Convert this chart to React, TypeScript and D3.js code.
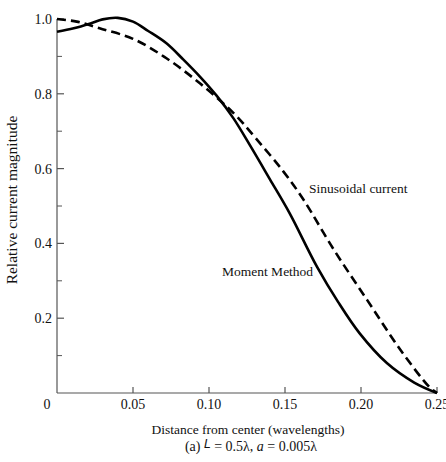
import React from 'react';
import * as d3 from 'd3';

// distance from center (wavelengths)
const MOMENT_X = [0, 0.011, 0.022, 0.03, 0.04, 0.05, 0.06, 0.072, 0.083, 0.094, 0.105, 0.116, 0.127, 0.14, 0.153, 0.171, 0.185, 0.199, 0.217, 0.235, 0.25];
const MOMENT_Y = [0.966, 0.975, 0.988, 0.999, 1.003, 0.993, 0.968, 0.935, 0.892, 0.846, 0.795, 0.735, 0.662, 0.572, 0.481, 0.338, 0.243, 0.16, 0.08, 0.028, 0.0];

const SINE_X = [0, 0.013, 0.028, 0.05, 0.072, 0.094, 0.116, 0.131, 0.149, 0.162, 0.182, 0.204, 0.226, 0.245, 0.25];
const SINE_Y = [1.0, 0.993, 0.975, 0.947, 0.895, 0.828, 0.749, 0.68, 0.592, 0.518, 0.384, 0.249, 0.115, 0.016, 0.0];

const X_TICKS = [0.05, 0.1, 0.15, 0.2, 0.25];
const X_TICK_LABELS = ['0.05', '0.10', '0.15', '0.20', '0.25'];
const Y_TICKS = [0.2, 0.4, 0.6, 0.8, 1.0];
const Y_TICK_LABELS = ['0.2', '0.4', '0.6', '0.8', '1.0'];
const Y_MINOR = [0.1, 0.3, 0.5, 0.7, 0.9];

const W = 446;
const H = 462;
const serif = "'Liberation Serif', 'Times New Roman', serif";

export default function App() {
  const x = d3.scaleLinear().domain([0, 0.25]).range([57, 437]);
  const y = d3.scaleLinear().domain([0, 1]).range([393, 19]);
  const line = d3.line<[number, number]>().x(d => x(d[0])).y(d => y(d[1])).curve(d3.curveCatmullRom.alpha(0.5));
  const moment = line(MOMENT_X.map((v, i) => [v, MOMENT_Y[i]] as [number, number])) || '';
  const sine = line(SINE_X.map((v, i) => [v, SINE_Y[i]] as [number, number])) || '';
  const axisColor = '#555';

  return (
    <svg width={W} height={H} style={{ position: 'absolute', left: 0, top: 0, background: '#fff' }} fontFamily={serif}>
      <rect width={W} height={H} fill="#fff" />
      {/* axes */}
      <line x1={x(0)} x2={x(0.25)} y1={y(0)} y2={y(0)} stroke={axisColor} strokeWidth={1.2} />
      <line x1={x(0)} x2={x(0)} y1={y(0)} y2={y(1)} stroke={axisColor} strokeWidth={1.2} />
      {X_TICKS.map(t => (
        <line key={'xt' + t} x1={x(t)} x2={x(t)} y1={y(0)} y2={y(0) - 6} stroke={axisColor} strokeWidth={1.2} />
      ))}
      {X_TICKS.map((t, i) => (
        <text key={'xl' + t} x={x(t)} y={409} textAnchor="middle" fontSize={14} fill="#111">{X_TICK_LABELS[i]}</text>
      ))}
      <text x={47} y={409} textAnchor="middle" fontSize={14} fill="#111">0</text>
      {Y_TICKS.map(t => (
        <line key={'yt' + t} x1={x(0)} x2={x(0) + 7} y1={y(t)} y2={y(t)} stroke={axisColor} strokeWidth={1.2} />
      ))}
      {Y_MINOR.map(t => (
        <line key={'ym' + t} x1={x(0)} x2={x(0) + 5} y1={y(t)} y2={y(t)} stroke={axisColor} strokeWidth={1} />
      ))}
      {Y_TICKS.map((t, i) => (
        <text key={'yl' + t} x={52} y={y(t)} dy="0.35em" textAnchor="end" fontSize={14} fill="#111">{Y_TICK_LABELS[i]}</text>
      ))}
      {/* curves */}
      <path d={sine} fill="none" stroke="#000" strokeWidth={2.6} strokeDasharray="9,5" />
      <path d={moment} fill="none" stroke="#000" strokeWidth={2.6} />
      {/* labels */}
      <text x={309} y={193} fontSize={13.5} fill="#111">Sinusoidal current</text>
      <text x={222} y={276} fontSize={13.5} fill="#111">Moment Method</text>
      <text x={248} y={434} textAnchor="middle" fontSize={13.5} fill="#111">Distance from center (wavelengths)</text>
      <text x={251} y={451} textAnchor="middle" fontSize={14} fill="#111">
        (a) <tspan fontFamily="'DejaVu Sans', sans-serif" fontStyle="italic" fontSize={12} dy={-3}>L</tspan>
        <tspan dy={3}> = 0.5λ, </tspan>
        <tspan fontStyle="italic">a</tspan> = 0.005λ
      </text>
      <text transform={`translate(17,200) rotate(-90)`} textAnchor="middle" fontSize={15.5} fill="#111">Relative current magnitude</text>
    </svg>
  );
}
